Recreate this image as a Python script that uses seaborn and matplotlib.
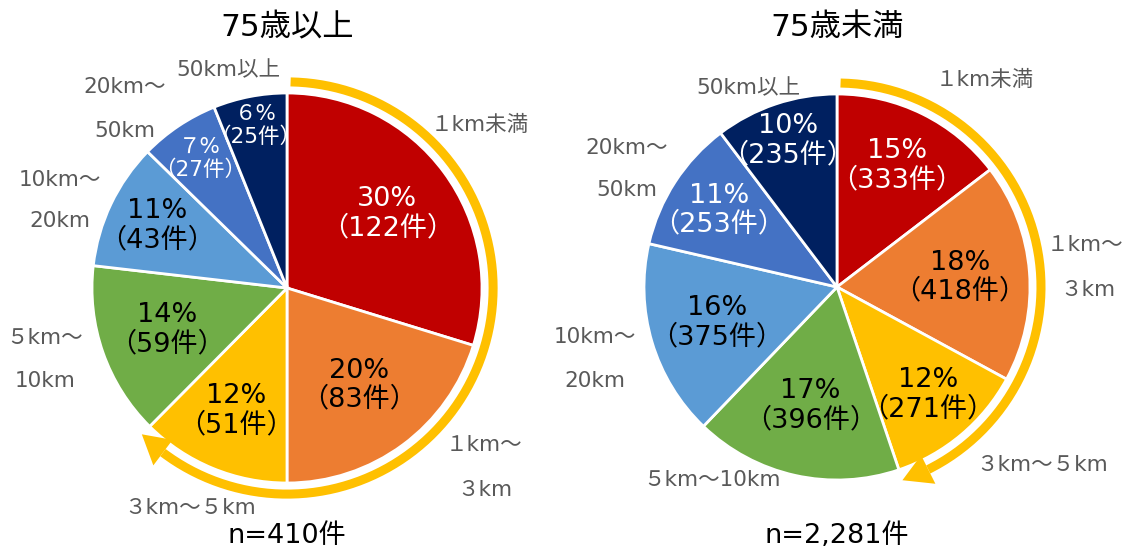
import numpy as np
import matplotlib
matplotlib.use("Agg")
import matplotlib.pyplot as plt
import seaborn as sns
from matplotlib.patches import Polygon

sns.set_theme(style="white")
plt.rcParams["font.family"] = ["DejaVu Sans", "Noto Sans CJK JP"]

# ---- data -------------------------------------------------------------
categories = ["１km未満", "１km～３km", "３km～５km", "５km～10km",
              "10km～20km", "20km～50km", "50km以上"]
counts_75plus = [122, 83, 51, 59, 43, 27, 25]
counts_under75 = [333, 418, 271, 396, 375, 253, 235]
pct_75plus = [30, 20, 12, 14, 11, 7, 6]
pct_under75 = [15, 18, 12, 17, 16, 11, 10]
titles = ["75歳以上", "75歳未満"]
totals = ["n=410件", "n=2,281件"]
n_arrow = 3  # first three distance bands are bracketed by the arrow

# ---- style ------------------------------------------------------------
colors = ["#C00000", "#ED7D31", "#FFC000", "#70AD47", "#5B9BD5", "#4472C4", "#002060"]
text_colors = ["white", "black", "black", "black", "black", "white", "white"]
arrow_color = "#FFC000"
gray = "#595959"

W, H = 1127, 549
fig = plt.figure(figsize=(W / 100, H / 100), dpi=100)


def zen(n):
    table = str.maketrans("0123456789", "０１２３４５６７８９")
    return str(n).translate(table) if n < 10 else str(n)


def draw_pie(x0, x1, cx, cy, r, counts, pcts, label_r, outer, title, total):
    ax = fig.add_axes([x0 / W, 0, (x1 - x0) / W, 1])
    ax.pie(counts, colors=colors, startangle=90, counterclock=False, radius=1,
           wedgeprops=dict(edgecolor="white", linewidth=2))
    ax.set_xlim(-(cx - x0) / r, (x1 - cx) / r)
    ax.set_ylim(-(H - cy) / r, cy / r)
    ax.set_aspect("auto")
    ax.axis("off")

    frac = np.cumsum([0] + list(counts)) / np.sum(counts) * 360.0
    for i, (c, p) in enumerate(zip(counts, pcts)):
        mid = np.deg2rad(90 - (frac[i] + frac[i + 1]) / 2)
        rr = label_r[i]
        small = p < 10
        txt = f"{zen(p)}%\n（{c}件）"
        ax.text(rr * np.cos(mid), rr * np.sin(mid), txt, ha="center", va="center",
                color=text_colors[i], fontsize=15.5 if small else 19.5,
                linespacing=1.15)

    # outer category labels, one entry per text line (pixel offsets from top-left)
    for txt, px, py in outer:
        ax.text((px - cx) / r, (cy - py) / r, txt, ha="center", va="center",
                color=gray, fontsize=15.5)

    # bracket arrow along the rim covering the first bands
    R = 1.057
    t_end = frac[n_arrow]
    head_len = 28 / r
    t_head = t_end - np.rad2deg(head_len / R)
    t = np.linspace(1.0, t_head, 200)
    a = np.deg2rad(90 - t)
    ax.plot(R * np.cos(a), R * np.sin(a), color=arrow_color, lw=6.5,
            solid_capstyle="butt")
    hw = 16 / r
    ae, ab = np.deg2rad(90 - t_end), np.deg2rad(90 - t_head)
    tri = [(R * np.cos(ae), R * np.sin(ae)),
           ((R + hw) * np.cos(ab), (R + hw) * np.sin(ab)),
           ((R - hw) * np.cos(ab), (R - hw) * np.sin(ab))]
    ax.add_patch(Polygon(tri, closed=True, color=arrow_color, lw=0))

    fig.text(cx / W, 1 - 28 / H, title, ha="center", va="center", fontsize=22.5, color="black")
    fig.text(cx / W, 1 - 536 / H, total, ha="center", va="center", fontsize=19.5, color="black")


outer_left = [
    ("１km未満", 480, 125),
    ("１km～", 484, 445),
    ("３km", 485, 490),
    ("３km～５km", 190, 508),
    ("５km～", 45, 338),
    ("10km", 45, 381),
    ("10km～", 60, 180),
    ("20km", 60, 221),
    ("20km～", 125, 87),
    ("50km", 125, 131),
    ("50km以上", 228, 70),
]
outer_right = [
    ("１km未満", 985, 80),
    ("１km～", 1085, 245),
    ("３km", 1088, 290),
    ("３km～５km", 1042, 465),
    ("５km～10km", 712, 480),
    ("10km～", 595, 337),
    ("20km", 595, 381),
    ("20km～", 627, 148),
    ("50km", 627, 190),
    ("50km以上", 748, 88),
]

draw_pie(0, 563, 287, 288, 195, counts_75plus, pct_75plus,
         [0.64, 0.62, 0.68, 0.65, 0.74, 0.80, 0.85], outer_left, titles[0], totals[0])
draw_pie(563, 1127, 837, 287, 193, counts_under75, pct_under75,
         [0.70, 0.64, 0.73, 0.63, 0.65, 0.73, 0.80], outer_right, titles[1], totals[1])

fig.savefig("out.png", dpi=100)
